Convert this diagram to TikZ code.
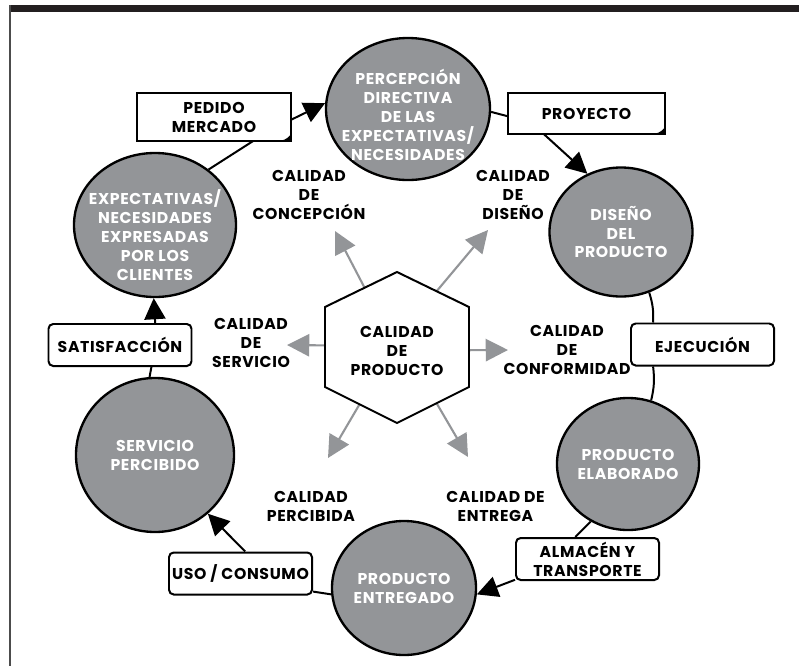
\documentclass[tikz,border=0pt]{standalone}
\usepackage{fontspec}
\setmainfont[LetterSpace=4]{Poppins}
\usepackage{tikz}
\usetikzlibrary{shapes.geometric,arrows.meta,calc}
\definecolor{grisnodo}{RGB}{147,149,152}
\definecolor{barra}{RGB}{35,31,32}
\newcommand{\letra}{\bfseries\fontsize{13.4}{16.2}\selectfont}
\tikzstyle{etapa}=[ellipse, draw=black, line width=2pt, fill=grisnodo, inner sep=0pt]
\tikzstyle{blanco}=[text=white, align=center, font=\letra, inner sep=0pt]
\tikzstyle{caja}=[rectangle, draw=black, line width=1.7pt, rounded corners=4pt, fill=white,
        minimum width=4.29cm, minimum height=1.26cm, align=center, inner sep=0pt, font=\letra]
\tikzstyle{hoja}=[rectangle, inner sep=0pt, align=center, font=\letra]
\tikzstyle{calidad}=[align=center, font=\letra, inner sep=0pt]
\tikzstyle{linea}=[draw=black, line width=1.7pt]
\tikzstyle{flecha}=[linea, -{Triangle[length=18pt,width=18pt]}]
\tikzstyle{gris}=[draw=grisnodo, line width=1.8pt, -{Triangle[length=19pt,width=19pt]}]

\begin{document}
\begin{tikzpicture}[x=0.03cm, y=-0.03cm]
\useasboundingbox (0,0) rectangle (799,666);
\fill[barra] (9,5) rectangle (799,12);
\draw[black!70, line width=1.7pt] (10,5) -- (10,666);

\node[etapa, minimum width=4.92cm, minimum height=4.26cm,
  label={[blanco, yshift=-5pt]center:PERCEPCIÓN\\DIRECTIVA\\DE LAS\\EXPECTATIVAS/\\NECESIDADES}] (percep) at (408,109) {};
\node[etapa, minimum width=4.29cm, minimum height=3.87cm,
  label={[blanco]center:DISEÑO\\DEL\\PRODUCTO}] (diseno) at (621,232) {};
\node[etapa, minimum width=4.26cm, minimum height=3.96cm,
  label={[blanco]center:PRODUCTO\\ELABORADO}] (elab) at (628,464) {};
\node[etapa, minimum width=4.32cm, minimum height=4.02cm,
  label={[blanco]center:PRODUCTO\\ENTREGADO}] (entregado) at (404,588) {};
\node[etapa, minimum width=4.74cm, minimum height=4.62cm,
  label={[blanco]center:SERVICIO\\PERCIBIDO}] (servicio) at (155,455) {};
\node[etapa, minimum width=4.86cm, minimum height=4.32cm,
  label={[blanco, yshift=-8.5pt]center:EXPECTATIVAS/\\NECESIDADES\\EXPRESADAS\\POR LOS\\CLIENTES}] (expect) at (155,225) {};

\node[hoja, minimum width=4.62cm, minimum height=1.44cm] (pedido) at (214,117) {PEDIDO\\MERCADO};
\node[hoja, minimum width=4.71cm, minimum height=1.23cm] (proyecto) at (586.5,113.5) {PROYECTO};
\foreach \h in {pedido,proyecto}{
  \draw[linea, line join=miter] (\h.south west) -- (\h.north west) -- (\h.north east) -- (\h.south east) -- cycle;
  \fill ($(\h.south east)+(-17,0)$) .. controls ($(\h.south east)+(-6,-1)$) .. ($(\h.south east)+(0,-7)$) -- (\h.south east) -- cycle;
}
\node[caja] (satisf) at (120,345) {SATISFACCIÓN};
\node[caja] (ejec) at (702.5,344.5) {EJECUCIÓN};
\node[caja] (almacen) at (587.5,559) {ALMACÉN Y\\TRANSPORTE};
\node[caja] (uso) at (240.5,573.5) {USO / CONSUMO};

\draw[linea] (expect.46) -- (pedido.-32);
\draw[flecha] (pedido.-2) -- (percep.176);
\draw[linea] (percep.-2) -- (proyecto.182);
\draw[flecha] (proyecto.206) -- (diseno.120);
\draw[linea] (diseno.-65) to[bend left=10] (ejec.156);
\draw[linea] (ejec.204) to[bend left=10] (elab.70);
\draw[linea] (elab.237) -- (almacen.119);
\draw[flecha] (almacen.196) -- (entregado.-5);
\draw[linea] (entregado.185) -- (uso.-14);
\draw[flecha] (uso.78) -- (servicio.-48);
\draw[linea] (servicio.94) -- (satisf.-35);
\draw[flecha] (satisf.32) -- (expect.-91);

\coordinate (h1) at (397,272);
\coordinate (h2) at (469,307);
\coordinate (h3) at (469,387);
\coordinate (h4) at (397,423);
\coordinate (h5) at (325,387);
\coordinate (h6) at (325,307);
\coordinate (pConcep) at (335,231);
\coordinate (pDiseno) at (488,230);
\coordinate (pServ) at (287,345);
\coordinate (pConf) at (508,350);
\coordinate (pPerc) at (328,458);
\coordinate (pEntr) at (468,457);
\draw[gris] ($(h6)!0.55!(h1)$) -- (pConcep);
\draw[gris] ($(h1)!0.55!(h2)$) -- (pDiseno);
\draw[gris] ($(h6)!0.48!(h5)$) -- (pServ);
\draw[gris] ($(h2)!0.54!(h3)$) -- (pConf);
\draw[gris] ($(h5)!0.48!(h4)$) -- (pPerc);
\draw[gris] ($(h4)!0.55!(h3)$) -- (pEntr);
\draw[linea, fill=white, line join=miter] (h1) -- (h2) -- (h3) -- (h4) -- (h5) -- (h6) -- cycle;
\node[calidad] (producto) at (397,351) {CALIDAD\\DE\\PRODUCTO};

\node[calidad] (concep) at (309,195) {CALIDAD\\DE\\CONCEPCIÓN};
\node[calidad] (disenoq) at (513,195) {CALIDAD\\DE\\DISEÑO};
\node[calidad] (servq) at (251,343) {CALIDAD\\DE\\SERVICIO};
\node[calidad] (conform) at (567,350) {CALIDAD\\DE\\CONFORMIDAD};
\node[calidad] (percib) at (311,506) {CALIDAD\\PERCIBIDA};
\node[calidad] (entrega) at (495.5,506) {CALIDAD DE\\ENTREGA};
\end{tikzpicture}
\end{document}
